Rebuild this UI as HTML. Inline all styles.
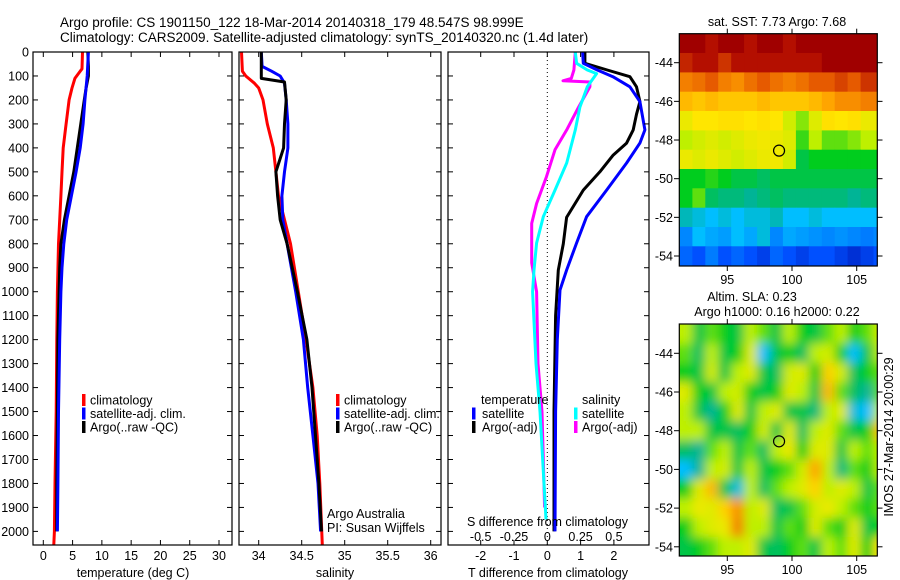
<!DOCTYPE html>
<html><head><meta charset="utf-8">
<style>
html,body{margin:0;padding:0;background:#fff;}
svg{display:block;font-family:"Liberation Sans",sans-serif;}
text{font-size:12.5px;fill:#000;}
</style></head>
<body>
<svg id="fig" width="900" height="580" viewBox="0 0 900 580" xmlns="http://www.w3.org/2000/svg">
<defs>
<filter id="blur" filterUnits="userSpaceOnUse" x="660" y="305" width="240" height="270"><feGaussianBlur stdDeviation="5"/></filter>
<clipPath id="clipMap1"><rect x="679.3" y="33.7" width="198" height="232.3"/></clipPath>
<clipPath id="clipMap2"><rect x="679.3" y="324" width="198" height="232"/></clipPath>
<clipPath id="clipP1"><rect x="33" y="52" width="199" height="493"/></clipPath>
<clipPath id="clipP2"><rect x="239" y="52" width="202" height="493"/></clipPath>
<clipPath id="clipP3"><rect x="448" y="52" width="201" height="493"/></clipPath>
</defs>
<text x="60" y="27" style="font-size:13.5px">Argo profile: CS 1901150_122 18-Mar-2014 20140318_179 48.547S 98.999E</text>
<text x="60" y="42" style="font-size:13.5px">Climatology: CARS2009. Satellite-adjusted climatology: synTS_20140320.nc (1.4d later)</text>
<g id="layer"></g>
</svg>
<script>
// ---- data ----
const tClimDepth=[0,70,90,110,150,200,300,400,500,600,700,800,1000,1200,1500,1800,2000,2056];
const tClimVal=[6.7,6.6,6.0,5.4,4.9,4.4,3.9,3.4,3.2,3.0,2.8,2.6,2.4,2.3,2.2,2.0,1.9,1.8];
const tSatDepth=[0,100,200,300,400,500,600,700,800,900,1000,1200,1500,1800,2000];
const tSatVal=[7.7,7.5,7.1,6.8,6.3,5.6,4.8,4.0,3.5,3.2,3.0,2.8,2.6,2.5,2.4];
const tArgoDepth=[0,60,100,150,200,300,400,500,600,700,800,900,1000,1200,1500,1800,2000];
const tArgoVal=[7.6,7.7,7.7,7.3,7.0,6.4,5.8,5.2,4.4,3.6,3.0,2.8,2.7,2.5,2.4,2.3,2.3];
const sClimDepth=[0,80,100,130,150,200,300,400,500,600,700,800,1000,1200,1400,1600,1800,2056];
const sClimVal=[33.80,33.81,33.85,33.95,34.0,34.05,34.1,34.17,34.2,34.23,34.3,34.37,34.46,34.55,34.63,34.68,34.71,34.74];
const sSatDepth=[0,60,80,100,130,200,300,400,500,600,700,800,1000,1200,1400,1600,1800,2000];
const sSatVal=[34.03,34.04,34.15,34.25,34.3,34.32,34.34,34.34,34.3,34.27,34.28,34.33,34.43,34.52,34.57,34.63,34.69,34.72];
const sArgoDepth=[0,110,125,200,300,400,500,600,700,800,1000,1200,1400,1600,1800,2000];
const sArgoVal=[34.03,34.03,34.3,34.32,34.3,34.29,34.2,34.22,34.25,34.33,34.45,34.56,34.62,34.66,34.7,34.73];
const dTSatDepth=[0,47,75,103,145,207,325,380,463,576,687,797,910,993,1200,1500,2000];
const dTSatVal=[1.06,1.08,1.5,1.97,2.48,2.78,2.93,2.78,2.38,1.78,1.18,0.88,0.58,0.38,0.3,0.25,0.23];
const dTArgoDepth=[0,47,75,103,145,207,260,325,380,430,500,576,690,800,910,1100,1500,2000];
const dTArgoVal=[1.13,1.13,1.8,2.48,2.68,2.78,2.68,2.58,2.38,1.98,1.58,1.08,0.58,0.48,0.33,0.25,0.2,0.2];
const dSSatDepth=[0,47,75,90,145,230,325,463,576,687,797,910,1000,1300,1500,1950];
const dSSatVal=[0.21,0.22,0.3,0.37,0.30,0.245,0.21,0.146,0.058,-0.03,-0.08,-0.1,-0.11,-0.085,-0.055,-0.01];
const dSArgoDepth=[0,75,110,120,125,145,230,325,408,520,632,715,880,1000,1300,1500,1900];
const dSArgoVal=[0.21,0.2,0.18,0.118,0.32,0.32,0.235,0.146,0.058,-0.006,-0.08,-0.117,-0.117,-0.08,-0.07,-0.04,-0.02];
const depthTicks=[0,100,200,300,400,500,600,700,800,900,1000,1100,1200,1300,1400,1500,1600,1700,1800,1900,2000];
const tTicks=[0,5,10,15,20,25,30];
const sTicks=[34,34.5,35,35.5,36];
const sTickLabels=["34","34.5","35","35.5","36"];
const dTTicks=[-2,-1,0,1,2];
const dSTicks=[-0.5,-0.25,0,0.25,0.5];
const dSTickLabels=["-0.5","-0.25","0","0.25","0.5"];
const lonTicks=[95,100,105];
const latTicks=[-44,-46,-48,-50,-52,-54];
const sstGrid=[
[1,1,.95,1,1,.95,1,1,.95,1,1,1,1,1,1,1],
[.92,.95,.95,.9,.95,.95,.95,.95,.95,.95,.95,1,1,1,1,1],
[.8,.82,.85,.8,.78,.82,.85,.82,.8,.82,.85,.85,.88,.85,.9,.9],
[.72,.7,.72,.7,.7,.7,.72,.7,.7,.7,.72,.75,.78,.78,.8,.8],
[.62,.65,.65,.66,.66,.65,.66,.65,.58,.52,.6,.66,.65,.66,.62,.62],
[.55,.58,.6,.58,.6,.62,.63,.62,.6,.48,.55,.5,.5,.52,.55,.55],
[.62,.6,.62,.6,.58,.6,.62,.63,.58,.42,.45,.45,.45,.45,.45,.45],
[.45,.45,.47,.45,.42,.42,.4,.42,.42,.42,.42,.42,.42,.42,.42,.42],
[.45,.5,.4,.38,.38,.36,.38,.4,.38,.38,.38,.38,.38,.36,.38,.38],
[.34,.32,.3,.32,.3,.32,.32,.34,.3,.3,.32,.3,.3,.3,.3,.3],
[.25,.3,.28,.27,.3,.28,.32,.25,.28,.27,.26,.25,.26,.25,.24,.25],
[.22,.2,.24,.2,.22,.2,.18,.22,.2,.18,.2,.2,.18,.16,.18,.2]];
const slaGrid=[
[.55,.42,.5,.45,.42,.55,.5,.42,.55,.45,.42,.5,.55,.45,.5,.58],
[.5,.4,.55,.42,.45,.6,.3,.42,.45,.4,.55,.58,.45,.3,.42,.55],
[.45,.42,.58,.42,.55,.6,.42,.4,.58,.6,.45,.68,.58,.4,.45,.5],
[.6,.45,.42,.55,.58,.45,.42,.45,.6,.55,.42,.72,.5,.4,.36,.5],
[.55,.42,.36,.45,.6,.42,.55,.6,.42,.42,.38,.55,.6,.32,.3,.55],
[.55,.55,.42,.42,.4,.45,.58,.42,.6,.4,.55,.6,.5,.42,.45,.7],
[.4,.36,.5,.55,.42,.5,.4,.55,.62,.45,.6,.6,.42,.55,.5,.55],
[.3,.36,.55,.58,.42,.55,.42,.45,.5,.58,.75,.55,.38,.5,.45,.55],
[.45,.6,.72,.42,.32,.55,.4,.5,.55,.6,.68,.55,.6,.55,.42,.5],
[.55,.62,.6,.68,.78,.55,.6,.4,.42,.5,.58,.62,.55,.5,.45,.5],
[.45,.55,.6,.62,.8,.55,.55,.42,.5,.45,.6,.5,.45,.6,.42,.45],
[.42,.45,.5,.55,.55,.6,.42,.4,.45,.5,.42,.55,.5,.6,.45,.65]];
const argoLon=99.0, argoLat=-48.55;

// ---- scales ----
const NS='http://www.w3.org/2000/svg';
const L=document.getElementById('layer');
function mk(tag,attrs,parent){const e=document.createElementNS(NS,tag);for(const k in attrs)e.setAttribute(k,attrs[k]);(parent||L).appendChild(e);return e;}
const yD=d=>52+d*0.2397;
const xT=v=>43.3+v*5.857;
const xS=v=>258.7+(v-34)*86;
const xDT=v=>547.3+v*33.3;
const xDS=v=>547.3+v*133.2;
const mxLon=v=>727.3+(v-95)*12.94;
const myLat1=v=>62.7+(-44-v)*19.33;
const myLat2=v=>353.3+(-44-v)*19.35;

function profile(depths,vals,xf,color,name,clip){
  const pts=vals.map((v,i)=>xf(v).toFixed(1)+','+yD(depths[i]).toFixed(1));
  const p=mk('polyline',{points:pts.join(' '),fill:'none',stroke:color,'stroke-width':3,'stroke-linejoin':'round','clip-path':'url(#'+clip+')'});
  
  
}
function frame(x0,x1,y0,y1,name){
  const r=mk('rect',{x:x0,y:y0,width:x1-x0,height:y1-y0,fill:'none',stroke:'#000','stroke-width':1.2});
  
  
}
function txt(x,y,s,anchor,name,extra){
  const t=mk('text',Object.assign({x:x,y:y,'text-anchor':anchor||'start'},extra||{}));
  t.textContent=s;
  
  
  return t;
}
function depthAxis(x0,x1,labels){
  depthTicks.forEach(d=>{
    const y=yD(d);
    mk('line',{x1:x0,x2:x0+5,y1:y,y2:y,stroke:'#000'});
    mk('line',{x1:x1-5,x2:x1,y1:y,y2:y,stroke:'#000'});
    if(labels) txt(x0-4,y+4.5,String(d),'end','depth-tick-label');
  });
}
function xAxis(ticks,labels,xf,y0,y1,ly,name){
  ticks.forEach((v,i)=>{
    const x=xf(v);
    mk('line',{x1:x,x2:x,y1:y1,y2:y1-5,stroke:'#000'});
    mk('line',{x1:x,x2:x,y1:y0,y2:y0+5,stroke:'#000'});
    if(labels) txt(x,ly,labels[i],'middle',name);
  });
}
function legendSwatch(x,y,color,label,tx,name){
  const r=mk('rect',{x:x,y:y-6,width:3.5,height:12,fill:color});
  
  
  txt(tx,y+4.5,label,'start',name);
}

// ---- panel 1: temperature ----
profile(tClimDepth,tClimVal,xT,'#ff0000','temp-climatology-line','clipP1');
profile(tArgoDepth,tArgoVal,xT,'#000000','temp-argo-line','clipP1');
profile(tSatDepth,tSatVal,xT,'#0000ff','temp-satellite-line','clipP1');
frame(33,232,52,545,'temperature-panel');
depthAxis(33,232,true);
xAxis(tTicks,tTicks.map(String),xT,52,545,560,'temperature-tick-label');
txt(133,577,'temperature (deg C)','middle','temperature-axis-title');
legendSwatch(82,400,'#ff0000','climatology',90,'legend-climatology');
legendSwatch(82,413.5,'#0000ff','satellite-adj. clim.',90,'legend-satellite-adj');
legendSwatch(82,427,'#000000','Argo(..raw -QC)',90,'legend-argo');

// ---- panel 2: salinity ----
profile(sClimDepth,sClimVal,xS,'#ff0000','sal-climatology-line','clipP2');
profile(sSatDepth,sSatVal,xS,'#0000ff','sal-satellite-line','clipP2');
profile(sArgoDepth,sArgoVal,xS,'#000000','sal-argo-line','clipP2');
frame(239,441,52,545,'salinity-panel');
depthAxis(239,441,false);
xAxis(sTicks,sTickLabels,xS,52,545,560,'salinity-tick-label');
txt(335,577,'salinity','middle','salinity-axis-title');
legendSwatch(336,400,'#ff0000','climatology',344,'legend-sal-climatology');
legendSwatch(336,413.5,'#0000ff','satellite-adj. clim.',344,'legend-sal-satellite-adj');
legendSwatch(336,427,'#000000','Argo(..raw -QC)',344,'legend-sal-argo');
txt(327,518,'Argo Australia','start','credit-argo-australia');
txt(327,532,'PI: Susan Wijffels','start','credit-pi');

// ---- panel 3: differences ----
mk('line',{x1:xDT(0),x2:xDT(0),y1:52,y2:545,stroke:'#000','stroke-dasharray':'1,3'});
profile(dSArgoDepth,dSArgoVal,xDS,'#ff00ff','sal-diff-argo-line','clipP3');
profile(dSSatDepth,dSSatVal,xDS,'#00ffff','sal-diff-satellite-line','clipP3');
profile(dTArgoDepth,dTArgoVal,xDT,'#000000','temp-diff-argo-line','clipP3');
profile(dTSatDepth,dTSatVal,xDT,'#0000ff','temp-diff-satellite-line','clipP3');
frame(448,649,52,545,'difference-panel');
depthAxis(448,649,false);
xAxis(dTTicks,dTTicks.map(String),xDT,52,545,560,'t-diff-tick-label');
dSTicks.forEach((v,i)=>txt(xDS(v),541,dSTickLabels[i],'middle','s-diff-tick-label'));
txt(467,526,'S difference from climatology','start','s-diff-axis-title');
txt(548,577,'T difference from climatology','middle','t-diff-axis-title');
txt(481,404,'temperature','start','legend-temperature-header');
txt(582,404,'salinity','start','legend-salinity-header');
legendSwatch(472,413.5,'#0000ff','satellite',482,'legend-temp-satellite');
legendSwatch(472,427,'#000000','Argo(-adj)',482,'legend-temp-argo');
legendSwatch(574,413.5,'#00ffff','satellite',582,'legend-sal-satellite');
legendSwatch(574,427,'#ff00ff','Argo(-adj)',582,'legend-sal-argo');

// ---- colormap ----
const cmStops=[[0.1,[0,0,150]],[0.2,[0,80,255]],[0.3,[0,190,255]],[0.36,[0,180,150]],[0.45,[0,205,30]],[0.55,[190,240,0]],[0.65,[255,230,0]],[0.75,[255,165,0]],[0.85,[230,90,0]],[0.95,[180,15,0]],[1.0,[160,0,0]]];
function cmap(v){
  if(v<=cmStops[0][0])return 'rgb('+cmStops[0][1]+')';
  for(let i=1;i<cmStops.length;i++){
    if(v<=cmStops[i][0]){const a=cmStops[i-1],b=cmStops[i];const t=(v-a[0])/(b[0]-a[0]);
      return 'rgb('+a[1].map((c,k)=>Math.round(c+(b[1][k]-c)*t)).join(',')+')';}
  }
  return 'rgb('+cmStops[cmStops.length-1][1]+')';
}
function drawMap(grid,yLat,clip,name,blur){
  const g=mk('g',{'clip-path':'url(#'+clip+')'});
  
  
  const inner=mk('g',blur?{filter:'url(#blur)'}:{},g);
  const nr=grid.length, nc=grid[0].length;
  grid.forEach((row,r)=>row.forEach((v,c)=>{
    let x0=mxLon(91.3+c), x1=mxLon(92.3+c);
    let y0=yLat(-42.5-r), y1=yLat(-43.5-r);
    if(blur){ if(c===0)x0-=15; if(c===nc-1)x1+=15; if(r===0)y0-=15; if(r===nr-1)y1+=15; }
    mk('rect',{x:x0.toFixed(1),y:y0.toFixed(1),width:(x1-x0+0.5).toFixed(1),height:(y1-y0+0.5).toFixed(1),fill:cmap(v)},inner);
  }));
}
function mapAxes(y0,y1,yLat,name){
  frame(679.3,877.3,y0,y1,name);
  lonTicks.forEach(v=>{const x=mxLon(v);
    mk('line',{x1:x,x2:x,y1:y0,y2:y0-5,stroke:'#000'});
    mk('line',{x1:x,x2:x,y1:y1,y2:y1+5,stroke:'#000'});
    txt(x,y1+18,String(v),'middle','map-lon-label');});
  latTicks.forEach(v=>{const y=yLat(v);
    mk('line',{x1:679.3,x2:674,y1:y,y2:y,stroke:'#000'});
    mk('line',{x1:877.3,x2:882.5,y1:y,y2:y,stroke:'#000'});
    txt(673,y+4.5,String(v),'end','map-lat-label');});
}
drawMap(sstGrid,myLat1,'clipMap1','sst-map',false);
mapAxes(33.7,266,myLat1,'sst-map-frame');
mk('circle',{cx:mxLon(argoLon),cy:myLat1(argoLat),r:5.5,fill:'none',stroke:'#000','stroke-width':1.2});
txt(777,26,'sat. SST: 7.73 Argo: 7.68','middle','sst-map-title');

mk('rect',{x:679.3,y:324,width:198,height:232,fill:cmap(0.48)});
drawMap(slaGrid,myLat2,'clipMap2','sla-map',true);
mapAxes(324,556,myLat2,'sla-map-frame');
mk('circle',{cx:mxLon(argoLon),cy:myLat2(argoLat),r:5.5,fill:'none',stroke:'#000','stroke-width':1.2});
txt(752,301,'Altim. SLA: 0.23','middle','sla-map-title');
txt(777,316,'Argo h1000: 0.16 h2000: 0.22','middle','sla-map-subtitle');
txt(0,0,'IMOS 27-Mar-2014 20:00:29','middle','imos-timestamp',{transform:'translate(893,437) rotate(-90)'});
</script>
</body></html>
